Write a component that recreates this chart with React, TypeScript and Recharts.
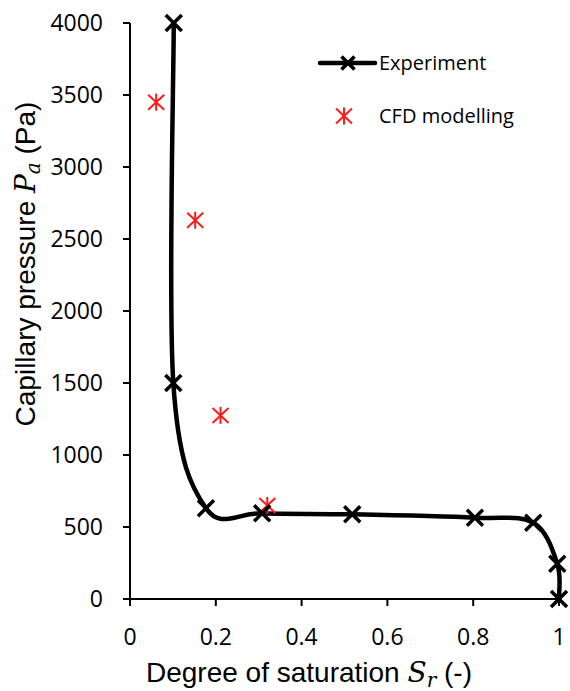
import React from 'react'
import { ComposedChart, Legend, Line, Scatter, XAxis, YAxis } from 'recharts'

// degree of saturation vs capillary pressure
const expSr = [0.102, 0.101, 0.177, 0.308, 0.518, 0.804, 0.94, 0.996, 1.0]
const expPa = [4000, 1500, 630, 595, 588, 565, 530, 245, 0]
const cfdSr = [0.061, 0.152, 0.211, 0.32]
const cfdPa = [3450, 2630, 1275, 650]
const srTicks = [0, 0.2, 0.4, 0.6, 0.8, 1]
const paTicks = [0, 500, 1000, 1500, 2000, 2500, 3000, 3500, 4000]

const expData = expSr.map((sr, i) => ({ sr, pa: expPa[i] }))
const cfdData = cfdSr.map((sr, i) => ({ sr, pa: cfdPa[i] }))

const TICK_FONT = 'Open Sans, Liberation Sans, sans-serif'
const TITLE_FONT = 'Liberation Sans, Arial, sans-serif'
const MATH_FONT = 'DejaVu Serif, Liberation Serif, serif'

// excel-like smoothed line (catmull-rom through every point)
const excelSmooth = (context: any) => {
  let pts: number[][] = []
  return {
    areaStart() {},
    areaEnd() {},
    lineStart() {
      pts = []
    },
    point(x: number, y: number) {
      pts.push([x, y])
    },
    lineEnd() {
      const n = pts.length
      if (!n) return
      context.moveTo(pts[0][0], pts[0][1])
      for (let i = 0; i < n - 1; i++) {
        const p0 = pts[Math.max(i - 1, 0)]
        const p1 = pts[i]
        const p2 = pts[i + 1]
        const p3 = pts[Math.min(i + 2, n - 1)]
        context.bezierCurveTo(
          p1[0] + (p2[0] - p0[0]) / 6,
          p1[1] + (p2[1] - p0[1]) / 6,
          p2[0] - (p3[0] - p1[0]) / 6,
          p2[1] - (p3[1] - p1[1]) / 6,
          p2[0],
          p2[1],
        )
      }
    },
  }
}

function XMark({ cx, cy, r = 8 }: { cx: number; cy: number; r?: number }) {
  return (
    <g stroke="#000" strokeWidth={3.5}>
      <line x1={cx - r} y1={cy - r} x2={cx + r} y2={cy + r} />
      <line x1={cx - r} y1={cy + r} x2={cx + r} y2={cy - r} />
    </g>
  )
}

function Asterisk({ cx, cy }: { cx: number; cy: number }) {
  return (
    <g stroke="#ff1a1a" strokeWidth={2}>
      <line x1={cx} y1={cy - 8.5} x2={cx} y2={cy + 8.5} />
      <line x1={cx - 8} y1={cy - 7.5} x2={cx + 8} y2={cy + 7.5} />
      <line x1={cx - 8} y1={cy + 7.5} x2={cx + 8} y2={cy - 7.5} />
    </g>
  )
}

const renderDot = (p: any) => <XMark key={`dot-${p.index}`} cx={p.cx} cy={p.cy} />

const renderLegend = () => (
  <svg width={240} height={100}>
    <line x1={20} y1={23} x2={75} y2={23} stroke="#000" strokeWidth={4.5} strokeLinecap="round" />
    <XMark cx={48} cy={23} r={6.5} />
    <text x={79} y={30} fontSize={20} fontFamily={TICK_FONT} fill="#000">
      Experiment
    </text>
    <Asterisk cx={44} cy={76} />
    <text x={79} y={83} fontSize={20} fontFamily={TICK_FONT} fill="#000">
      CFD modelling
    </text>
  </svg>
)

const xTitle = () => (
  <text x={309} y={682} textAnchor="middle" fontSize={28} fontFamily={TITLE_FONT} fill="#000">
    Degree of saturation{' '}
    <tspan fontFamily={MATH_FONT} fontStyle="italic">S</tspan>
    <tspan fontFamily={MATH_FONT} fontStyle="italic" fontSize={20} dy={5}>r</tspan>
    <tspan dy={-5}> (-)</tspan>
  </text>
)

const yTitle = () => (
  <text
    x={35}
    y={264}
    transform="rotate(-90, 35, 264)"
    textAnchor="middle"
    fontSize={28}
    fontFamily={TITLE_FONT}
    fill="#000"
  >
    Capillary pressure{' '}
    <tspan fontFamily={MATH_FONT} fontStyle="italic">P</tspan>
    <tspan fontFamily={MATH_FONT} fontStyle="italic" fontSize={20} dy={5}>a</tspan>
    <tspan dy={-5}> (Pa)</tspan>
  </text>
)

export default function App() {
  return (
    <div style={{ position: 'absolute', left: 0, top: 0, background: '#fff' }}>
      <ComposedChart width={570} height={691} margin={{ top: 23, right: 11, bottom: 0, left: 0 }}>
        <XAxis
          type="number"
          dataKey="sr"
          domain={[0, 1]}
          ticks={srTicks}
          interval={0}
          height={92}
          tickSize={7}
          tickMargin={23}
          axisLine={{ stroke: '#000', strokeWidth: 2 }}
          tickLine={{ stroke: '#000', strokeWidth: 2 }}
          tick={{ fontSize: 23, fill: '#000', fontFamily: TICK_FONT }}
          label={xTitle}
        />
        <YAxis
          type="number"
          dataKey="pa"
          domain={[0, 4000]}
          ticks={paTicks}
          interval={0}
          width={130}
          tickSize={7}
          tickMargin={20}
          axisLine={{ stroke: '#000', strokeWidth: 2 }}
          tickLine={{ stroke: '#000', strokeWidth: 2 }}
          tick={{ fontSize: 23, fill: '#000', fontFamily: TICK_FONT }}
          label={yTitle}
        />
        <Legend
          layout="vertical"
          align="center"
          verticalAlign="middle"
          wrapperStyle={{ position: 'absolute', left: 300, top: 40, width: 240, height: 100 }}
          content={renderLegend}
        />
        <Line
          data={expData}
          dataKey="pa"
          name="Experiment"
          type={excelSmooth as any}
          stroke="#000"
          strokeWidth={4.5}
          dot={renderDot}
          activeDot={false}
          isAnimationActive={false}
        />
        <Scatter
          data={cfdData}
          dataKey="pa"
          name="CFD modelling"
          shape={(p: any) => <Asterisk cx={p.cx} cy={p.cy} />}
          isAnimationActive={false}
        />
      </ComposedChart>
    </div>
  )
}
